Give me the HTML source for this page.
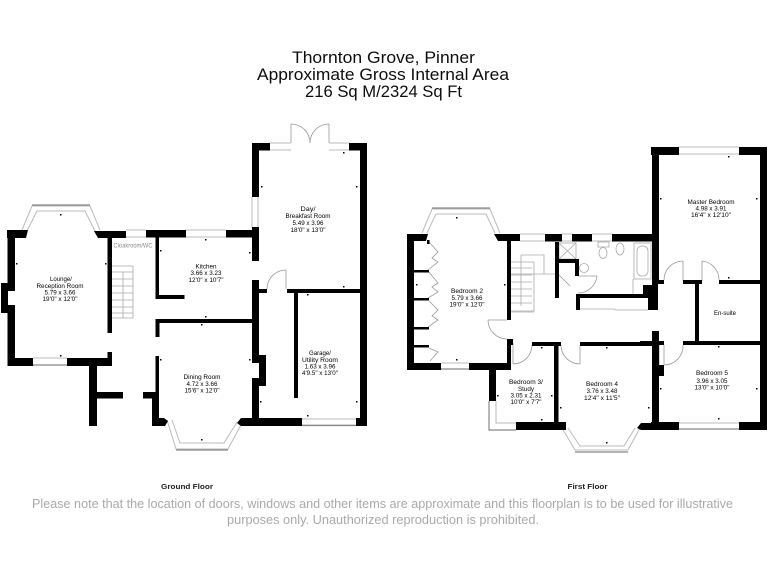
<!DOCTYPE html>
<html><head><meta charset="utf-8"><title>Thornton Grove, Pinner</title>
<style>
html,body{margin:0;padding:0;background:#fff;width:768px;height:576px;overflow:hidden}
svg{display:block}
text{font-family:"Liberation Sans",sans-serif;text-anchor:middle}
.r{font-size:6px;fill:#000}
.t{font-size:17px;fill:#111}
.n{font-size:13px;fill:#aaa}
</style></head><body>
<svg width="768" height="576" viewBox="0 0 768 576" xmlns="http://www.w3.org/2000/svg">
<defs><filter id="b" x="-5%" y="-5%" width="110%" height="110%"><feGaussianBlur stdDeviation="0.35"/></filter></defs>
<g filter="url(#b)">
<!-- thin lines: windows, bays -->
<g fill="none" stroke="#bbb" stroke-width="1">
<path d="M22 230L32 206H90L100 230M27 231L37 211H85L95 231"/>
<path d="M126 230H146M126 237H146M185 230H226M186 237H226M33 358H67"/>
<path d="M167 420L176 449H228L242 423M172 420L180 443H224L237 422"/>
<path d="M252 197V228M258 197V228M270 143H291M270 150H291M329 143H349M329 150H349M302 419H356M302 425H356"/>
<path d="M422 233L432 209H490L500 233M427 233L436 214H486L495 233"/>
<path d="M520 234H545M520 241H545M562 234H572M562 241H572M592 234H612M592 241H612M441 363H469"/>
<path d="M496 401V423H516"/>
<path d="M562 428L575 450H628L640 428M568 428L580 446H624L635 428"/>
<path d="M679 147H739M679 154H739M679 423H739"/>
</g>
<g fill="none" stroke="#888" stroke-width="1.2">
<path d="M32 205H90M33 365H67M176 450H228M432 208H490M441 369H469M489 401V430H516M575 452H628M679 429H739M302 425.500H356"/>
</g>
<!-- doors -->
<g fill="none" stroke="#999" stroke-width="0.8">
<path d="M291 124V143M329 124V143M291 124A19 19 0 0 1 310 143M329 124A19 19 0 0 0 310 143"/>
<path d="M286 270V289M267 289A19 19 0 0 1 286 270"/>
<path d="M488 320H507M488 320A19 19 0 0 0 507 339"/>
<path d="M513 343V364M513 364A19 19 0 0 0 532 345"/>
<path d="M580 345V364M561 345A19 19 0 0 0 580 364"/>
<path d="M664 345V365M659 345V365M664 365A19 19 0 0 0 683 345"/>
<path d="M683 261V281M702 261V281M664 280A19 19 0 0 1 683 261M702 261A19 19 0 0 1 719 280"/>
<path d="M578 276H597M597 276A19 19 0 0 1 578 293"/>
<path d="M559 275L570 286"/>
<!-- closet doors -->
<path d="M429 242L438 252L432 258L438 262L428 270M429 272L438 283L432 287L438 292L428 298M429 301L438 310L432 316L438 320L428 327M429 348L438 352L430 361"/>
</g>
<!-- stairs ground -->
<g fill="none" stroke="#aaa" stroke-width="0.8">
<path d="M112 266H133V318H112M112 272H133M112 279H133M112 286H133M112 293H133M112 300H133M112 307H133M112 313H133M123 272V318"/>
<!-- stairs first -->
<path d="M511 262H534M511 268H532M511 275H532M511 282H532M511 289H532M511 296H532M511 303H532M511 311H534V262M521 255V306M521 255H544V274H511M534 274H555"/>
<!-- bathroom fittings -->
<rect x="559" y="243" width="17" height="16"/>
<path d="M559 243L576 259M576 243L559 259"/>
<circle cx="584" cy="268" r="4.500"/>
<ellipse cx="603" cy="253" rx="4" ry="5.500"/>
<rect x="598" y="242" width="11" height="5"/>
<ellipse cx="620" cy="249" rx="4" ry="6"/>
<rect x="634" y="243" width="17" height="36"/>
<rect x="637" y="246" width="11" height="30" rx="5"/>
<path d="M633 279V294M580 309H614L616 310H648"/>
<path d="M511 312H534"/>
</g>
<!-- walls -->
<g fill="#000">
<!-- lounge -->
<rect x="7.500" y="230" width="7.500" height="136"/>
<path d="M7 230H28L26 238H7Z"/>
<rect x="1" y="283" width="14" height="30"/>
<rect x="8" y="291" width="7" height="14" fill="#fff"/>
<rect x="7.500" y="358" width="25.500" height="8"/>
<rect x="67" y="358" width="45" height="8"/>
<rect x="107.500" y="352" width="4.500" height="10"/>
<rect x="107.500" y="238" width="4.500" height="95"/>
<rect x="89" y="362" width="8" height="64"/>
<rect x="97" y="392" width="26" height="6.500"/>
<path d="M94 231H126V238H98Z"/>
<rect x="146" y="230" width="40" height="7.500"/>
<rect x="226" y="230" width="33" height="7.500"/>
<rect x="252" y="237" width="7" height="24"/>
<!-- kitchen -->
<rect x="155.500" y="237" width="3.500" height="62"/>
<rect x="155.500" y="295" width="29" height="4"/>
<rect x="155.500" y="319" width="97" height="4"/>
<rect x="155.500" y="323" width="4" height="14"/>
<!-- dining -->
<rect x="155.500" y="356" width="3.500" height="40"/>
<rect x="143" y="392" width="16" height="6.500"/>
<rect x="152" y="392" width="7" height="28"/>
<path d="M152 418H164L168 421L165 426H152Z"/>
<path d="M252 280H259V355H266V386H252V378H259V363H252Z"/>
<rect x="259" y="289" width="8" height="4"/>
<path d="M237 423L241 418H302V426H241Z"/>
<rect x="356" y="418" width="11" height="8"/>
<!-- day room -->
<rect x="360" y="143" width="7" height="283"/>
<rect x="349" y="143" width="18" height="7.500"/>
<rect x="252" y="143" width="18" height="7.500"/>
<rect x="252" y="143" width="7" height="54"/>
<rect x="252" y="227" width="7" height="34"/>
<rect x="240" y="230" width="12" height="7"/>
<rect x="252" y="378" width="7" height="42"/>
<rect x="287" y="289" width="73" height="4"/>
<rect x="294" y="293" width="4" height="105"/>
<!-- bedroom 2 -->
<rect x="407" y="234" width="7" height="136"/>
<path d="M407 234H428L426 241H407Z"/>
<rect x="407" y="363" width="34" height="7"/>
<rect x="469" y="363" width="42" height="7"/>
<rect x="507" y="241" width="4" height="79"/>
<rect x="507" y="339" width="4" height="26"/>
<rect x="507" y="339" width="6" height="6"/>
<rect x="414" y="270" width="15" height="2.500"/>
<rect x="414" y="298" width="15" height="2.500"/>
<rect x="414" y="327" width="15" height="2.500"/>
<rect x="414" y="345" width="15" height="2.500"/>
<rect x="427" y="240" width="2.500" height="4"/>
<path d="M494 234H520V241H498Z"/>
<rect x="545" y="234" width="17" height="7.500"/>
<rect x="572" y="234" width="20" height="7.500"/>
<rect x="612" y="234" width="47" height="7.500"/>
<!-- bed 3 -->
<rect x="489" y="370" width="7" height="31"/>
<rect x="516" y="422" width="50" height="8"/>
<rect x="554" y="343" width="4.500" height="80"/>
<rect x="532" y="342" width="29" height="4"/>
<!-- bath core -->
<rect x="555" y="242" width="4" height="56"/>
<rect x="555" y="259" width="24" height="4"/>
<rect x="575" y="260" width="4" height="16"/>
<rect x="576" y="294" width="82" height="4"/>
<rect x="576" y="295" width="4" height="15"/>
<path d="M643 285H652V280H664V284H658V310H648V295H643Z"/>
<!-- master -->
<rect x="652" y="147" width="7" height="137"/>
<rect x="651" y="147" width="28" height="8"/>
<rect x="739" y="147" width="28" height="8"/>
<rect x="760" y="147" width="7" height="283"/>
<rect x="651" y="422" width="28" height="8"/>
<rect x="739" y="422" width="28" height="8"/>
<rect x="652" y="280" width="12" height="4"/>
<rect x="683" y="280" width="19" height="4"/>
<rect x="719" y="280" width="41" height="4"/>
<rect x="695" y="284" width="4" height="57"/>
<rect x="683" y="341" width="84" height="4"/>
<rect x="640" y="341" width="24" height="4"/>
<rect x="652" y="331" width="7" height="92"/>
<rect x="652" y="365" width="12" height="11"/>
<rect x="580" y="342" width="75" height="4"/>
<path d="M637 428L641 423H651V430H641Z"/>
<path d="M560 422H566V427L563 430H540V422Z"/>
<!-- small ticks -->
<path d="M16 263h1.500v1.500h-1.500zM105 263h1.500v1.500h-1.500zM60 214h1.500v1.500h-1.500zM60 355h1.500v1.500h-1.500zM160 250h1.500v1.500h-1.500zM249 252h1.500v1.500h-1.500zM205 239h1.500v1.500h-1.500zM205 316h1.500v1.500h-1.500zM201 324h1.500v1.500h-1.500zM160 359h1.500v1.500h-1.500zM249 359h1.500v1.500h-1.500zM260 401h1.500v1.500h-1.500zM201 439h1.500v1.500h-1.500zM261 186h1.500v1.500h-1.500zM356 186h1.500v1.500h-1.500zM343 152h1.500v1.500h-1.500zM343 286h1.500v1.500h-1.500zM307 294h1.500v1.500h-1.500zM356 401h1.500v1.500h-1.500zM307 415h1.500v1.500h-1.500zM416 284h1.500v1.500h-1.500zM504 284h1.500v1.500h-1.500zM456 217h1.500v1.500h-1.500zM456 359h1.500v1.500h-1.500zM497 395h1.500v1.500h-1.500zM551 395h1.500v1.500h-1.500zM541 347h1.500v1.500h-1.500zM541 419h1.500v1.500h-1.500zM560 407h1.500v1.500h-1.500zM606 347h1.500v1.500h-1.500zM606 442h1.500v1.500h-1.500zM648 407h1.500v1.500h-1.500zM660 198h1.500v1.500h-1.500zM756 198h1.500v1.500h-1.500zM728 156h1.500v1.500h-1.500zM728 277h1.500v1.500h-1.500zM718 346h1.500v1.500h-1.500zM660 388h1.500v1.500h-1.500zM756 388h1.500v1.500h-1.500zM718 418h1.500v1.500h-1.500z"/>
</g>
<!-- room labels -->
<text class="r" x="61" y="281" textLength="22" lengthAdjust="spacingAndGlyphs">Lounge/</text>
<text class="r" x="60" y="288" textLength="47" lengthAdjust="spacingAndGlyphs">Reception Room</text>
<text class="r" x="60" y="294.500" textLength="31" lengthAdjust="spacingAndGlyphs">5.79 x 3.66</text>
<text class="r" x="60" y="301" textLength="35" lengthAdjust="spacingAndGlyphs">19'0" x 12'0"</text>
<text x="133" y="247.500" style="font-size:6px;fill:#8a8a8a" textLength="39" lengthAdjust="spacingAndGlyphs">Cloakroom/WC</text>
<text class="r" x="206" y="268.500" textLength="21" lengthAdjust="spacingAndGlyphs">Kitchen</text>
<text class="r" x="206" y="275" textLength="31" lengthAdjust="spacingAndGlyphs">3.66 x 3.23</text>
<text class="r" x="206" y="282" textLength="35" lengthAdjust="spacingAndGlyphs">12'0" x 10'7"</text>
<text class="r" x="202" y="379" textLength="37" lengthAdjust="spacingAndGlyphs">Dining Room</text>
<text class="r" x="202" y="386" textLength="31" lengthAdjust="spacingAndGlyphs">4.72 x 3.66</text>
<text class="r" x="202" y="392.500" textLength="35" lengthAdjust="spacingAndGlyphs">15'6" x 12'0"</text>
<text class="r" x="308" y="211" textLength="15" lengthAdjust="spacingAndGlyphs">Day/</text>
<text class="r" x="308" y="218" textLength="45" lengthAdjust="spacingAndGlyphs">Breakfast Room</text>
<text class="r" x="308" y="225" textLength="31" lengthAdjust="spacingAndGlyphs">5.49 x 3.96</text>
<text class="r" x="308" y="232" textLength="35" lengthAdjust="spacingAndGlyphs">18'0" x 13'0"</text>
<text class="r" x="320" y="355" textLength="22" lengthAdjust="spacingAndGlyphs">Garage/</text>
<text class="r" x="320" y="362" textLength="36" lengthAdjust="spacingAndGlyphs">Utility Room</text>
<text class="r" x="320" y="368.500" textLength="31" lengthAdjust="spacingAndGlyphs">1.63 x 3.96</text>
<text class="r" x="320" y="375" textLength="36" lengthAdjust="spacingAndGlyphs">4'9.5" x 13'0"</text>
<text class="r" x="467" y="293" textLength="32" lengthAdjust="spacingAndGlyphs">Bedroom 2</text>
<text class="r" x="467" y="300" textLength="31" lengthAdjust="spacingAndGlyphs">5.79 x 3.66</text>
<text class="r" x="467" y="306.500" textLength="35" lengthAdjust="spacingAndGlyphs">19'0" x 12'0"</text>
<text class="r" x="526" y="384" textLength="34" lengthAdjust="spacingAndGlyphs">Bedroom 3/</text>
<text class="r" x="526" y="391" textLength="16" lengthAdjust="spacingAndGlyphs">Study</text>
<text class="r" x="526" y="397.500" textLength="31" lengthAdjust="spacingAndGlyphs">3.05 x 2.31</text>
<text class="r" x="526" y="404" textLength="31" lengthAdjust="spacingAndGlyphs">10'0" x 7'7"</text>
<text class="r" x="602" y="386" textLength="32" lengthAdjust="spacingAndGlyphs">Bedroom 4</text>
<text class="r" x="602" y="393" textLength="31" lengthAdjust="spacingAndGlyphs">3.76 x 3.48</text>
<text class="r" x="602" y="400" textLength="36" lengthAdjust="spacingAndGlyphs">12'4" x 11'5"</text>
<text class="r" x="711" y="204" textLength="47" lengthAdjust="spacingAndGlyphs">Master Bedroom</text>
<text class="r" x="711" y="210.500" textLength="31" lengthAdjust="spacingAndGlyphs">4.98 x 3.91</text>
<text class="r" x="711" y="217" textLength="40" lengthAdjust="spacingAndGlyphs">16'4" x 12'10"</text>
<text class="r" x="725" y="315" textLength="22" lengthAdjust="spacingAndGlyphs">En-suite</text>
<text class="r" x="712" y="375" textLength="32" lengthAdjust="spacingAndGlyphs">Bedroom 5</text>
<text class="r" x="712" y="383" textLength="31" lengthAdjust="spacingAndGlyphs">3.96 x 3.05</text>
<text class="r" x="712" y="389.500" textLength="35" lengthAdjust="spacingAndGlyphs">13'0" x 10'0"</text>
<!-- title -->
<text class="t" x="383.500" y="63" textLength="183" lengthAdjust="spacingAndGlyphs">Thornton Grove, Pinner</text>
<text class="t" x="383" y="80" textLength="252" lengthAdjust="spacingAndGlyphs">Approximate Gross Internal Area</text>
<text class="t" x="383.500" y="97" textLength="157" lengthAdjust="spacingAndGlyphs">216 Sq M/2324 Sq Ft</text>
<text x="187" y="489" style="font-size:7.500px;font-weight:bold;fill:#222" textLength="52" lengthAdjust="spacingAndGlyphs">Ground Floor</text>
<text x="587.500" y="489" style="font-size:7.500px;font-weight:bold;fill:#222" textLength="40" lengthAdjust="spacingAndGlyphs">First Floor</text>
<text class="n" x="382.500" y="508" textLength="701" lengthAdjust="spacingAndGlyphs">Please note that the location of doors, windows and other items are approximate and this floorplan is to be used for illustrative</text>
<text class="n" x="383" y="524" textLength="312" lengthAdjust="spacingAndGlyphs">purposes only. Unauthorized reproduction is prohibited.</text>
</g>
</svg>
</body></html>
